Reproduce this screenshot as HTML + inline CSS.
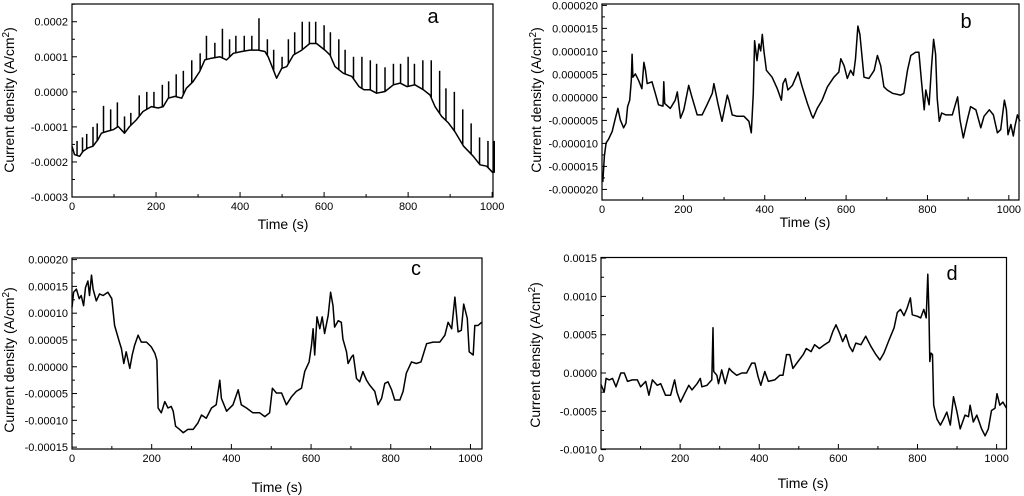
<!DOCTYPE html>
<html><head><meta charset="utf-8">
<style>
html,body{margin:0;padding:0;background:#fff;}
svg{display:block;font-family:"Liberation Sans",Arial,sans-serif;}
</style></head>
<body>
<svg id="fig" width="1024" height="496" viewBox="0 0 1024 496" xmlns="http://www.w3.org/2000/svg"></svg>
<script>
// ---------- Panel a data (values in 1e-4 A/cm2) ----------
const aTime = [0,6,18,26,38,50,62,70,82,98,110,125,137,153,169,189,205,217,229,245,261,272,288,304,316,332,352,368,384,404,423,443,459,467,479,487,499,511,527,547,566,582,602,614,626,646,666,683,695,709,725,745,765,781,797,816,836,852,864,880,896,911,932,955,971,987,1002];
const aValue = [-1.55,-1.79,-1.84,-1.70,-1.60,-1.55,-1.36,-1.18,-1.13,-1.08,-0.99,-1.18,-0.99,-0.80,-0.56,-0.42,-0.46,-0.42,-0.18,-0.13,-0.18,0.10,0.29,0.58,0.91,0.96,1.00,0.91,1.10,1.15,1.19,1.19,1.15,1.00,0.63,0.39,0.67,0.72,1.05,1.19,1.38,1.38,1.19,1.05,0.72,0.53,0.44,0.15,0.06,0.06,-0.04,0.01,0.20,0.25,0.15,0.20,0.06,-0.09,-0.42,-0.70,-0.89,-1.13,-1.55,-1.84,-2.08,-2.12,-2.31];
const aSpikeTime = [12,25,35,50,60,75,92,108,125,140,160,178,195,215,230,248,265,285,305,320,340,358,375,390,410,428,445,465,480,500,515,530,548,565,580,600,615,635,650,670,690,710,725,745,765,782,800,815,835,855,875,890,910,930,950,970,990,1005];
const aSpikeTop = [-1.4,-1.3,-1.2,-1.0,-0.9,-0.4,-0.5,-0.3,-0.7,-0.6,-0.1,0,0,0.2,0.3,0.5,0.6,0.9,1.1,1.6,1.4,1.8,1.5,1.6,1.6,1.6,2.1,1.5,1.2,1.0,1.5,1.7,2.0,2.0,2.0,1.9,1.7,1.5,1.2,1.0,1.0,0.9,0.8,0.7,0.8,0.8,1.0,0.8,0.9,0.9,0.6,0.1,0.0,-0.5,-0.9,-1.3,-1.4,-1.4];
const aYTicks = [-0.0003,-0.0002,-0.0001,0,0.0001,0.0002];
const aYLabels = ["-0.0003","-0.0002","-0.0001","0.0000","0.0001","0.0002"];
// ---------- Panel b data (values in 1e-6 A/cm2) ----------
const bTime = [2,6,10,16,25,33,39,45,53,59,63,68,72,74,76,82,90,98,103,107,111,123,131,139,150,152,154,168,180,185,193,201,213,221,234,246,258,271,275,285,295,308,312,320,332,349,361,367,372,375,381,386,390,394,398,404,418,431,441,445,451,457,468,482,492,505,515,519,529,541,554,570,582,587,595,603,611,618,623,629,634,644,656,669,677,685,693,701,714,734,742,751,759,771,779,785,792,796,804,810,815,820,824,829,835,845,861,874,880,888,898,906,919,931,939,952,962,972,980,989,994,998,1005,1011,1015,1021,1027];
const bValue = [-18.4,-12.7,-9.9,-9.1,-7.4,-4.5,-2.4,-4.9,-6.6,-5.6,-2.0,-0.6,3.7,9.4,4.4,5.1,3.7,1.9,7.6,5.9,3.0,3.4,0.9,-1.6,-1.9,3.4,-1.3,-2.4,-0.6,1.2,-4.5,-2.7,2.6,0.1,-3.8,-3.8,-1.6,0.9,3.0,-1.3,-5.2,0.5,-0.6,-3.8,-4.1,-4.1,-5.2,-7.7,0.9,12.3,8.0,11.6,10.1,13.7,10.1,5.9,4.4,1.9,-0.6,3.0,4.1,1.6,2.6,5.5,2.3,-1.3,-3.8,-4.5,-2.4,-0.6,2.3,4.4,5.5,8.4,6.9,4.1,5.9,4.8,8.4,15.5,13.7,4.4,4.1,5.9,9.1,6.9,2.3,1.6,0.9,0.5,0.9,5.9,9.1,9.8,9.8,3.7,-2.7,1.6,-1.6,6.6,12.6,9.4,-0.2,-5.2,-3.4,-3.8,-3.8,0.1,-4.9,-8.8,-4.9,-2.0,-2.7,-6.6,-4.1,-2.7,-3.8,-7.7,-7.0,-0.6,-2.7,-8.1,-5.9,-8.4,-6.3,-3.8,-5.2];
const bYTicks = [-20e-6,-15e-6,-10e-6,-5e-6,0,5e-6,10e-6,15e-6,20e-6];
const bYLabels = ["-0.000020","-0.000015","-0.000010","-0.000005","0.000000","0.000005","0.000010","0.000015","0.000020"];
// ---------- Panel c data (values in 1e-5 A/cm2) ----------
const cTime = [0,4,11,18,23,29,34,40,44,49,53,61,69,78,90,100,107,119,124,130,136,145,151,157,166,174,187,199,208,213,216,224,233,241,249,254,260,270,279,291,304,316,325,337,350,362,371,375,388,404,417,425,438,454,471,484,496,503,513,526,538,551,563,576,584,595,601,605,609,615,622,628,634,643,649,655,659,668,676,680,689,693,702,706,714,722,730,739,747,760,768,777,785,793,802,810,823,831,839,852,864,876,890,906,923,936,944,953,961,969,977,983,992,997,1007,1011,1019,1028];
const cValue = [11.1,13.9,14.5,12.7,13.3,11.4,14.8,16.0,13.3,17.1,14.5,12.3,13.6,13.3,13.9,12.7,7.7,4.6,3.4,0.6,2.8,-0.3,2.2,4.0,5.9,4.6,4.6,3.7,2.5,1.2,-7.7,-8.6,-6.5,-7.7,-7.4,-8.3,-11.1,-11.7,-12.3,-11.7,-11.7,-10.5,-9.0,-9.6,-7.7,-7.1,-2.5,-5.9,-8.3,-7.1,-4.3,-7.1,-7.7,-8.6,-8.6,-9.3,-8.6,-4.0,-4.9,-4.9,-7.1,-5.6,-4.6,-4.0,-0.9,0.9,4.0,7.1,2.2,9.3,7.1,9.3,6.2,9.6,13.9,11.4,7.4,8.6,8.3,5.2,2.8,0.6,1.9,2.2,-2.2,-2.8,-0.9,-2.5,-3.4,-4.6,-7.1,-5.9,-3.1,-2.8,-4.3,-6.2,-6.2,-4.6,-1.2,0.9,0.6,0.9,4.3,4.6,4.6,5.9,8.3,7.1,13.0,6.5,6.8,11.7,9.0,2.8,2.2,7.7,7.7,8.3];
const cYTicks = [-0.00015,-0.0001,-0.00005,0,0.00005,0.0001,0.00015,0.0002];
const cYLabels = ["-0.00015","-0.00010","-0.00005","0.00000","0.00005","0.00010","0.00015","0.00020"];
// ---------- Panel d data (values in 1e-4 A/cm2) ----------
const dTime = [0,8,13,21,29,38,50,59,67,79,92,100,113,121,130,142,151,163,176,186,192,201,213,222,230,243,251,255,268,280,283,285,293,297,305,314,324,331,343,356,368,381,389,397,404,414,423,439,452,460,469,477,485,498,511,519,531,540,552,565,577,586,594,603,611,619,628,636,644,657,669,682,695,705,715,728,741,749,757,766,774,782,787,800,808,816,822,826,829,831,834,838,841,849,858,866,874,883,891,900,908,920,929,933,941,950,962,971,979,987,996,1001,1008,1016,1025];
const dValue = [-1.5,-2.5,-0.7,-0.9,-0.7,-1.8,0,0,-1.1,-0.9,-0.9,-1.8,-1.1,-2.9,-0.9,-1.6,-1.4,-2.9,-2.9,-0.9,-2.5,-3.8,-2.5,-1.6,-2.2,-1.4,-0.7,-1.8,-1.6,-0.9,5.9,0.2,-0.3,-1.4,0.4,-1.4,0.6,0.2,-0.3,0,0,1.3,1.3,-0.5,-1.6,0.2,-1.1,-0.9,-0.3,-0.3,2.4,2.4,0.6,1.5,2.4,3.2,2.8,3.7,3.2,3.7,4.1,5.4,6.3,5.2,4.1,5.0,3.5,2.8,3.9,3.7,4.8,3.5,2.4,1.7,2.6,4.3,5.9,7.9,8.3,7.5,8.5,9.8,7.6,7.4,7.2,8.3,7.2,12.9,7.6,1.5,2.6,2.4,-4.2,-6.0,-6.8,-6.0,-5.1,-6.8,-3.1,-5.1,-7.3,-5.5,-5.7,-4.2,-6.4,-5.5,-7.3,-8.2,-7.3,-4.9,-4.6,-2.7,-4.2,-3.8,-4.6];
const dYTicks = [-0.001,-0.0005,0,0.0005,0.001,0.0015];
const dYLabels = ["-0.0010","-0.0005","0.0000","0.0005","0.0010","0.0015"];
const xTicks = [0,200,400,600,800,1000];
const xLabels = ["0","200","400","600","800","1000"];

const NS = "http://www.w3.org/2000/svg";
const svg = document.getElementById('fig');
function mk(tag, attrs, parent){
  const e = document.createElementNS(NS, tag);
  for (const k in attrs) e.setAttribute(k, attrs[k]);
  (parent||svg).appendChild(e);
  return e;
}

function panel(cfg){
  const g = mk('g', {});
  
  
  const xs = t => cfg.L + (t - 0) / cfg.xmax * (cfg.R - cfg.L);
  const ys = v => cfg.B - (v - cfg.ymin) / (cfg.ymax - cfg.ymin) * (cfg.B - cfg.T);
  const fr = mk('rect', {x:cfg.L, y:cfg.T, width:cfg.R-cfg.L, height:cfg.B-cfg.T, fill:'none', stroke:'#000', 'stroke-width':1.2}, g);
  
  
  const xg = mk('g', {}, g);
  
  
  for (let i = 0; i < xTicks.length; i++){
    const x = xs(xTicks[i]);
    mk('line', {x1:x, x2:x, y1:cfg.B, y2:cfg.B-5, stroke:'#000'}, xg);
    const mx = xs(xTicks[i] + 100);
    if (mx < cfg.R) mk('line', {x1:mx, x2:mx, y1:cfg.B, y2:cfg.B-3, stroke:'#000'}, xg);
    const t = mk('text', {x:x, y:cfg.B+13, 'font-size':11, 'text-anchor':'middle', fill:'#000'}, xg);
    t.textContent = xLabels[i];
    
    
  }
  const yg = mk('g', {}, g);
  
  
  const step = cfg.yTicks[1] - cfg.yTicks[0];
  for (let i = 0; i < cfg.yTicks.length; i++){
    const y = ys(cfg.yTicks[i]);
    mk('line', {x1:cfg.L, x2:cfg.L+5, y1:y, y2:y, stroke:'#000'}, yg);
    const my = ys(cfg.yTicks[i] + step/2);
    if (my > cfg.T) mk('line', {x1:cfg.L, x2:cfg.L+3, y1:my, y2:my, stroke:'#000'}, yg);
    const t = mk('text', {x:cfg.L-4, y:y+4, 'font-size':11, 'text-anchor':'end', fill:'#000'}, yg);
    t.textContent = cfg.yLabels[i];
    
    
  }
  const xt = mk('text', {x:cfg.xlx, y:cfg.xly, 'font-size':14, 'text-anchor':'middle', fill:'#000'}, g);
  xt.textContent = 'Time (s)';
  
  
  const yt = mk('text', {x:0, y:0, 'font-size':14, 'text-anchor':'middle', fill:'#000', transform:`translate(${cfg.ylx},${cfg.yly}) rotate(-90)`}, g);
  yt.innerHTML = 'Current density (A/cm<tspan dy="-5" font-size="10">2</tspan><tspan dy="5">)</tspan>';
  
  
  const lt = mk('text', {x:cfg.lx, y:cfg.ly, 'font-size':20, 'text-anchor':'middle', fill:'#000'}, g);
  lt.textContent = cfg.id;
  
  
  let d = '';
  for (let i = 0; i < cfg.t.length; i++){
    d += (i ? 'L' : 'M') + xs(cfg.t[i]).toFixed(1) + ',' + ys(cfg.v[i]*cfg.unit).toFixed(1);
  }
  const p = mk('path', {d:d, fill:'none', stroke:'#000', 'stroke-width':1.5, 'stroke-linejoin':'round'}, g);
  
  
  return {xs, ys, g};
}

const A = panel({id:'a', L:72, T:4, R:493, B:197, xmax:1002, ymin:-0.0003, ymax:0.0002506,
  yTicks:aYTicks, yLabels:aYLabels, t:aTime, v:aValue, unit:1e-4,
  xlx:283, xly:229, ylx:14, yly:100, lx:433, ly:23});
function baseAt(t){
  for (let i = 1; i < aTime.length; i++){
    if (t <= aTime[i]){
      const f = (t - aTime[i-1]) / (aTime[i] - aTime[i-1]);
      return aValue[i-1] + f*(aValue[i]-aValue[i-1]);
    }
  }
  return aValue[aValue.length-1];
}
for (let i = 0; i < aSpikeTime.length; i++){
  const x = A.xs(aSpikeTime[i]);
  const s = mk('line', {x1:x, x2:x, y1:A.ys(baseAt(aSpikeTime[i])*1e-4), y2:A.ys(aSpikeTop[i]*1e-4), stroke:'#000', 'stroke-width':1.5}, A.g);
  
  
}

panel({id:'b', L:602, T:4, R:1019, B:200, xmax:1025, ymin:-22.3e-6, ymax:20.3e-6,
  yTicks:bYTicks, yLabels:bYLabels, t:bTime, v:bValue, unit:1e-6,
  xlx:805, xly:227, ylx:541, yly:100, lx:966, ly:28});
panel({id:'c', L:72, T:258, R:482, B:449, xmax:1029, ymin:-0.0001535, ymax:0.000203,
  yTicks:cYTicks, yLabels:cYLabels, t:cTime, v:cValue, unit:1e-5,
  xlx:277, xly:492, ylx:14, yly:360, lx:416, ly:275});
panel({id:'d', L:601, T:257.5, R:1006.5, B:449, xmax:1025, ymin:-0.000992, ymax:0.001508,
  yTicks:dYTicks, yLabels:dYLabels, t:dTime, v:dValue, unit:1e-4,
  xlx:803, xly:488, ylx:540, yly:355, lx:952, ly:280});
</script>
</body></html>
